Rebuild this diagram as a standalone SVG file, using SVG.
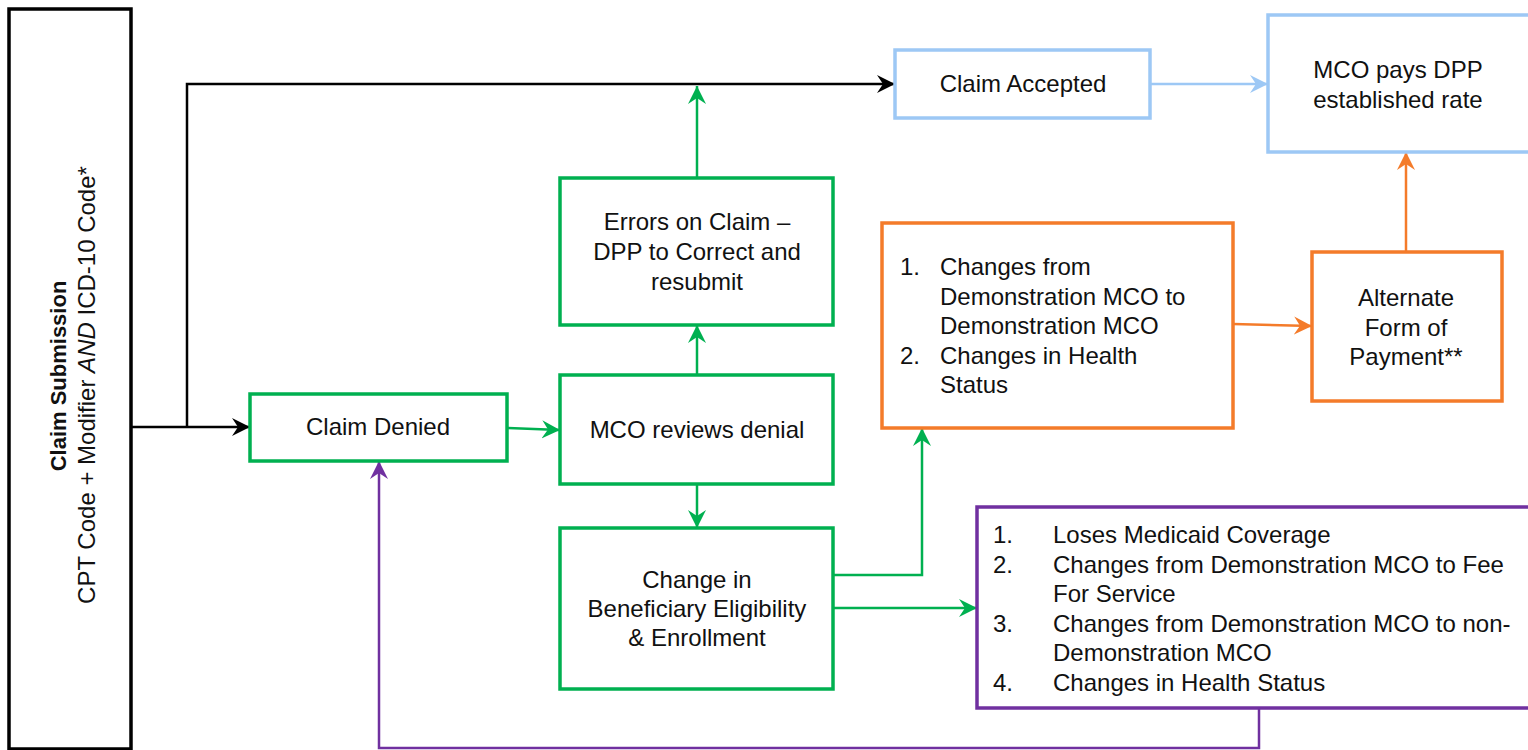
<svg xmlns="http://www.w3.org/2000/svg" width="1528" height="750" viewBox="0 0 1528 750">
<style>
text{font-family:"Liberation Sans",Arial,sans-serif;font-size:24px;fill:#111}
.c{text-anchor:middle}
.box{fill:#fff;stroke-width:3.5}
.k{stroke:#000}.g{stroke:#00B050}.o{stroke:#F47B2A}.p{stroke:#7030A0}.b{stroke:#9DC8F5}
.ln{fill:none;stroke-width:2.5}
</style>
<defs>
<marker id="ak" viewBox="-18 -10 18 20" refX="0" refY="0" markerWidth="18" markerHeight="20" markerUnits="userSpaceOnUse" orient="auto"><path d="M0,0 L-18,-9 L-12,0 L-18,9 Z" fill="#000"/></marker>
<marker id="ag" viewBox="-18 -10 18 20" refX="0" refY="0" markerWidth="18" markerHeight="20" markerUnits="userSpaceOnUse" orient="auto"><path d="M0,0 L-18,-9 L-12,0 L-18,9 Z" fill="#00B050"/></marker>
<marker id="ao" viewBox="-18 -10 18 20" refX="0" refY="0" markerWidth="18" markerHeight="20" markerUnits="userSpaceOnUse" orient="auto"><path d="M0,0 L-18,-9 L-12,0 L-18,9 Z" fill="#F47B2A"/></marker>
<marker id="ap" viewBox="-18 -10 18 20" refX="0" refY="0" markerWidth="18" markerHeight="20" markerUnits="userSpaceOnUse" orient="auto"><path d="M0,0 L-18,-9 L-12,0 L-18,9 Z" fill="#7030A0"/></marker>
<marker id="ab" viewBox="-18 -10 18 20" refX="0" refY="0" markerWidth="18" markerHeight="20" markerUnits="userSpaceOnUse" orient="auto"><path d="M0,0 L-18,-9 L-12,0 L-18,9 Z" fill="#9DC8F5"/></marker>
</defs>

<g id="connectors">
<path class="ln k" d="M131,427 H250" marker-end="url(#ak)"/>
<path class="ln k" d="M187,427 V84 H895" marker-end="url(#ak)"/>
<path class="ln g" d="M697,178 V86" marker-end="url(#ag)"/>
<path class="ln g" d="M697,375 V325" marker-end="url(#ag)"/>
<path class="ln g" d="M507,428 L560,430" marker-end="url(#ag)"/>
<path class="ln g" d="M697,484 V528" marker-end="url(#ag)"/>
<path class="ln g" d="M833,575 H922 V428" marker-end="url(#ag)"/>
<path class="ln g" d="M833,608 H977" marker-end="url(#ag)"/>
<path class="ln o" d="M1233,324 L1312,326" marker-end="url(#ao)"/>
<path class="ln o" d="M1406,252 V152" marker-end="url(#ao)"/>
<path class="ln b" d="M1150,84 H1268" marker-end="url(#ab)"/>
<path class="ln p" d="M1259,708 V748 H379 V461" marker-end="url(#ap)"/>
</g>

<g id="claim-submission">
<rect class="box k" x="9" y="9" width="122" height="740"/>
<text class="c" transform="translate(66,376) rotate(-90)" style="font-weight:bold;font-size:22px">Claim Submission</text>
<text class="c" transform="translate(95,385) rotate(-90)">CPT Code + Modifier <tspan font-style="italic">AND</tspan> ICD-10 Code*</text>
</g>

<g id="claim-accepted">
<rect class="box b" x="895" y="50" width="255" height="68"/>
<text class="c" x="1023" y="92">Claim Accepted</text>
</g>

<g id="mco-pays">
<rect class="box b" x="1268" y="15" width="270" height="137"/>
<text class="c" x="1398" y="78">MCO pays DPP</text>
<text class="c" x="1398" y="108">established rate</text>
</g>

<g id="errors">
<rect class="box g" x="560" y="178" width="273" height="147"/>
<text class="c" x="697" y="230">Errors on Claim –</text>
<text class="c" x="697" y="260">DPP to Correct and</text>
<text class="c" x="697" y="290">resubmit</text>
</g>

<g id="claim-denied">
<rect class="box g" x="250" y="394" width="257" height="67"/>
<text class="c" x="378" y="435">Claim Denied</text>
</g>

<g id="mco-reviews">
<rect class="box g" x="560" y="375" width="273" height="109"/>
<text class="c" x="697" y="438">MCO reviews denial</text>
</g>

<g id="change-eligibility">
<rect class="box g" x="560" y="528" width="273" height="161"/>
<text class="c" x="697" y="588">Change in</text>
<text class="c" x="697" y="617">Beneficiary Eligibility</text>
<text class="c" x="697" y="646">&amp; Enrollment</text>
</g>

<g id="orange-list">
<rect class="box o" x="882" y="223" width="351" height="205"/>
<text x="900" y="275">1.</text><text x="940" y="275">Changes from</text>
<text x="940" y="304.5">Demonstration MCO to</text>
<text x="940" y="334">Demonstration MCO</text>
<text x="900" y="363.5">2.</text><text x="940" y="363.5">Changes in Health</text>
<text x="940" y="393">Status</text>
</g>

<g id="alternate-payment">
<rect class="box o" x="1312" y="252" width="190" height="149"/>
<text class="c" x="1406" y="306">Alternate</text>
<text class="c" x="1406" y="336">Form of</text>
<text class="c" x="1406" y="365">Payment**</text>
</g>

<g id="purple-list">
<rect class="box p" x="977" y="507" width="560" height="201"/>
<text x="993" y="543">1.</text><text x="1053" y="543">Loses Medicaid Coverage</text>
<text x="993" y="572.5">2.</text><text x="1053" y="572.5">Changes from Demonstration MCO to Fee</text>
<text x="1053" y="602">For Service</text>
<text x="993" y="631.5">3.</text><text x="1053" y="631.5">Changes from Demonstration MCO to non-</text>
<text x="1053" y="661">Demonstration MCO</text>
<text x="993" y="690.5">4.</text><text x="1053" y="690.5">Changes in Health Status</text>
</g>
</svg>
